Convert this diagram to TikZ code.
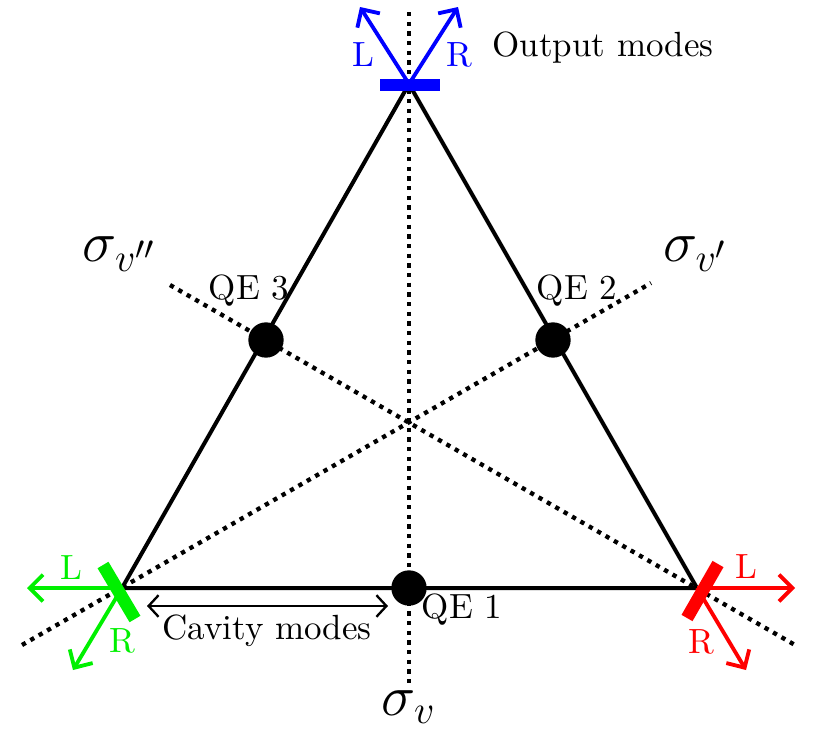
\documentclass[tikz,border=0pt]{standalone}
\usetikzlibrary{arrows.meta}
\definecolor{myblue}{RGB}{0,0,255}
\definecolor{mygreen}{RGB}{0,240,0}
\definecolor{myred}{RGB}{255,0,0}
\begin{document}
\begin{tikzpicture}[x=0.3pt,y=-0.3pt,
  dotline/.style={line width=1.3pt, dash pattern=on 1.3pt off 1.6pt},
  side/.style={line width=1.2pt},
  qe/.style={circle, fill=black, inner sep=0pt, minimum size=10.6pt},
  bar/.style={line width=3.8pt},
  outarrow/.style={line width=1.15pt, -{Straight Barb[length=4pt,width=8pt,line width=1.15pt]}},
  cav/.style={line width=0.7pt, {Straight Barb[length=3pt,width=6.5pt]}-{Straight Barb[length=3pt,width=6.5pt]}},
  lbl/.style={inner sep=0pt, font=\fontsize{10.5}{12}\selectfont},
  sig/.style={inner sep=0pt, font=\LARGE}]
\useasboundingbox (0,0) rectangle (813,734);
% symmetry axes
\coordinate (a1) at (409,12); \coordinate (a2) at (409,684);
\coordinate (b1) at (22,645); \coordinate (b2) at (651,283);
\coordinate (c1) at (170,285); \coordinate (c2) at (795,645);
\draw[dotline] (a1) -- (a2);
\draw[dotline] (b1) -- (b2);
\draw[dotline] (c1) -- (c2);
% triangle
\coordinate (T) at (409,84);
\coordinate (BL) at (122,588);
\coordinate (BR) at (697,588);
\draw[side] (T) -- (BR) -- (BL) -- cycle;
% quantum emitters
\node[qe] (q1) at (409,588) {};
\node[qe] (q2) at (553,340) {};
\node[qe] (q3) at (266,340) {};
\node[lbl] (q1l) at (462,610) {QE 1};
\node[lbl] (q2l) at (577,291) {QE 2};
\node[lbl] (q3l) at (249,291) {QE 3};
% top output mirror
\coordinate (tb1) at (380,85); \coordinate (tb2) at (440,85);
\draw[bar, myblue] (tb1) -- (tb2);
\coordinate (tL) at (360,7); \coordinate (tR) at (458,7);
\draw[outarrow, myblue] (T) -- (tL);
\draw[outarrow, myblue] (T) -- (tR);
\node[lbl, text=myblue] (tLl) at (363,55) {L};
\node[lbl, text=myblue] (tRl) at (459,55) {R};
\node[lbl] (om) at (603,48) {Output modes};
% bottom-left mirror
\coordinate (gb1) at (103,565); \coordinate (gb2) at (135,619);
\draw[bar, mygreen] (gb1) -- (gb2);
\coordinate (gL) at (27,588); \coordinate (gR) at (73,670);
\draw[outarrow, mygreen] (BL) -- (gL);
\draw[outarrow, mygreen] (BL) -- (gR);
\node[lbl, text=mygreen] (gLl) at (71,568) {L};
\node[lbl, text=mygreen] (gRl) at (122,641) {R};
% bottom-right mirror
\coordinate (rb1) at (718,564); \coordinate (rb2) at (687,618);
\draw[bar, myred] (rb1) -- (rb2);
\coordinate (rL) at (795,588); \coordinate (rR) at (746,670);
\draw[outarrow, myred] (BR) -- (rL);
\draw[outarrow, myred] (BR) -- (rR);
\node[lbl, text=myred] (rLl) at (746,567) {L};
\node[lbl, text=myred] (rRl) at (701,642) {R};
% cavity modes
\coordinate (cm1) at (147,606); \coordinate (cm2) at (388,606);
\draw[cav] (cm1) -- (cm2);
\node[lbl] (cml) at (267,631) {Cavity modes};
% axis labels
\node[sig] (sv) at (409,707) {$\sigma_v$};
\node[sig] (svp) at (696,254) {$\sigma_{v'}$};
\node[sig] (svpp) at (120,254) {$\sigma_{v''}$};
\end{tikzpicture}
\end{document}
